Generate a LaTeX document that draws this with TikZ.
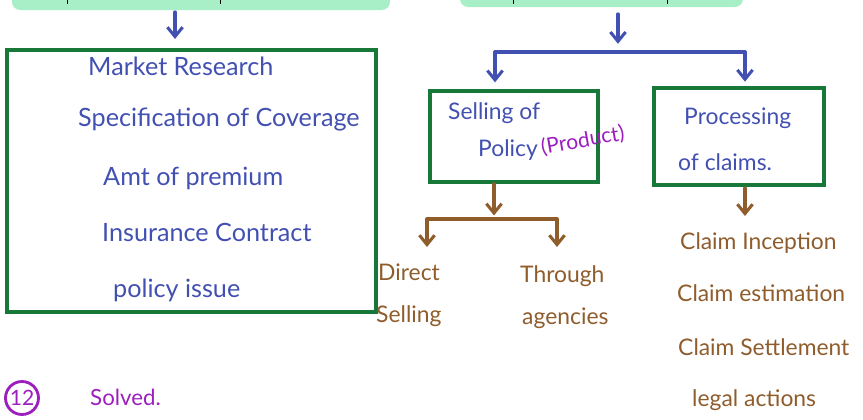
\documentclass[tikz,border=0pt]{standalone}
\usepackage{fontspec}
\setmainfont{Lato}
\usetikzlibrary{arrows.meta}
\definecolor{ink}{RGB}{66,80,178}
\definecolor{boxgreen}{RGB}{24,120,58}
\definecolor{sepia}{RGB}{143,92,44}
\definecolor{violet}{RGB}{156,30,190}
\definecolor{marker}{RGB}{168,238,198}
\tikzset{
  frame/.style={draw=boxgreen, line width=2.8pt, rectangle, inner sep=0pt},
  bluetxt/.style={text=ink, font=\fontsize{21.5}{24}\selectfont, anchor=west, inner sep=0pt},
  boxtxt/.style={text=ink, font=\fontsize{19.5}{22}\selectfont, anchor=west, inner sep=0pt},
  browntxt/.style={text=sepia, font=\fontsize{19.5}{22}\selectfont, anchor=west, inner sep=0pt},
  bluearr/.style={draw=ink, line width=2.8pt, line cap=round, -{Straight Barb[length=8pt,width=13pt,line width=2.6pt]}},
  blueline/.style={draw=ink, line width=2.8pt, line cap=round},
  brownarr/.style={draw=sepia, line width=2.8pt, line cap=round, -{Straight Barb[length=8pt,width=13pt,line width=2.6pt]}},
  brownline/.style={draw=sepia, line width=2.8pt, line cap=round},
}
\begin{document}
\begin{tikzpicture}[x=0.03cm, y=-0.03cm]
\useasboundingbox (0,0) rectangle (863,420);

% highlighted headings along the top edge
\fill[marker, rounded corners=7pt] (12,-20) rectangle (390,10);
\fill[marker, rounded corners=7pt] (460,-20) rectangle (743,7);
\draw[black, line width=0.8pt] (67,0) -- (67,4) (220,0) -- (220,4) (513,0) -- (513,4) (667,0) -- (667,4);

% left column: product design steps
\node[frame, minimum width=369*0.03cm, minimum height=262*0.03cm] (design) at (191.5,181) {};
\node[bluetxt] (t1) at (88,66) {Market Research};
\node[bluetxt] (t2) at (78,120) {Specification of Coverage};
\node[bluetxt] (t3) at (103,178) {Amt of premium};
\node[bluetxt] (t4) at (102,232) {Insurance Contract};
\node[bluetxt] (t5) at (113,290) {policy issue};

\coordinate (ls) at (175,12);
\draw[bluearr] (ls) -- (ls |- design.north) [shorten >=8pt];

% right column: selling and claims
\node[frame, minimum width=168*0.03cm, minimum height=91*0.03cm] (sell) at (514,136.5) {};
\node[boxtxt] (s1) at (448,113) {Selling of};
\node[boxtxt] (s2) at (478,150) {Policy};
\node[text=violet, font=\fontsize{18}{20}\selectfont, anchor=west, inner sep=0pt, rotate=10] (s3) at (541,148) {(Product)};

\node[frame, minimum width=170*0.03cm, minimum height=97*0.03cm] (proc) at (739,136.5) {};
\node[boxtxt] (p1) at (684,118) {Processing};
\node[boxtxt] (p2) at (678,162) {of claims.};

\coordinate (rs) at (618,14);
\coordinate (rj) at (618,52);
\coordinate (rl) at (495,52);
\coordinate (rr) at (745,52);
\draw[bluearr] (rs) -- (rj) [shorten >=7pt];
\draw[blueline] (rl) -- (rr);
\draw[bluearr] (rl) -- (rl |- sell.north) [shorten >=6pt];
\draw[bluearr] (rr) -- (rr |- proc.north) [shorten >=4pt];

% selling channels
\coordinate (bs) at (494,184);
\coordinate (bj) at (494,219);
\coordinate (bl) at (427,219);
\coordinate (br) at (557,219);
\coordinate (bld) at (427,247);
\coordinate (brd) at (557,247);
\draw[brownarr] (bs) -- (bj) [shorten >=3pt];
\draw[brownline] (bl) -- (br);
\draw[brownarr] (bl) -- (bld);
\draw[brownarr] (br) -- (brd);
\node[browntxt] (d1) at (378,272) {Direct};
\node[browntxt] (d2) at (376,316) {Selling};
\node[browntxt] (g1) at (520,276) {Through};
\node[browntxt] (g2) at (522,318) {agencies};

% claim stages
\coordinate (pc) at (745,188);
\coordinate (pd) at (745,216);
\draw[brownarr] (pc) -- (pd);
\node[browntxt] (c1) at (680,243) {Claim Inception};
\node[browntxt] (c2) at (677,293) {Claim estimation};
\node[browntxt] (c3) at (678,347) {Claim Settlement};
\node[browntxt] (c4) at (692,400) {legal actions};

% question number
\node[draw=violet, line width=2.4pt, circle, minimum size=33*0.03cm, inner sep=0pt, text=violet, font=\fontsize{18}{20}\selectfont] (qn) at (22,398) {12};
\node[text=violet, font=\fontsize{19}{22}\selectfont, anchor=west, inner sep=0pt] (solved) at (90,397) {Solved.};
\end{tikzpicture}
\end{document}
